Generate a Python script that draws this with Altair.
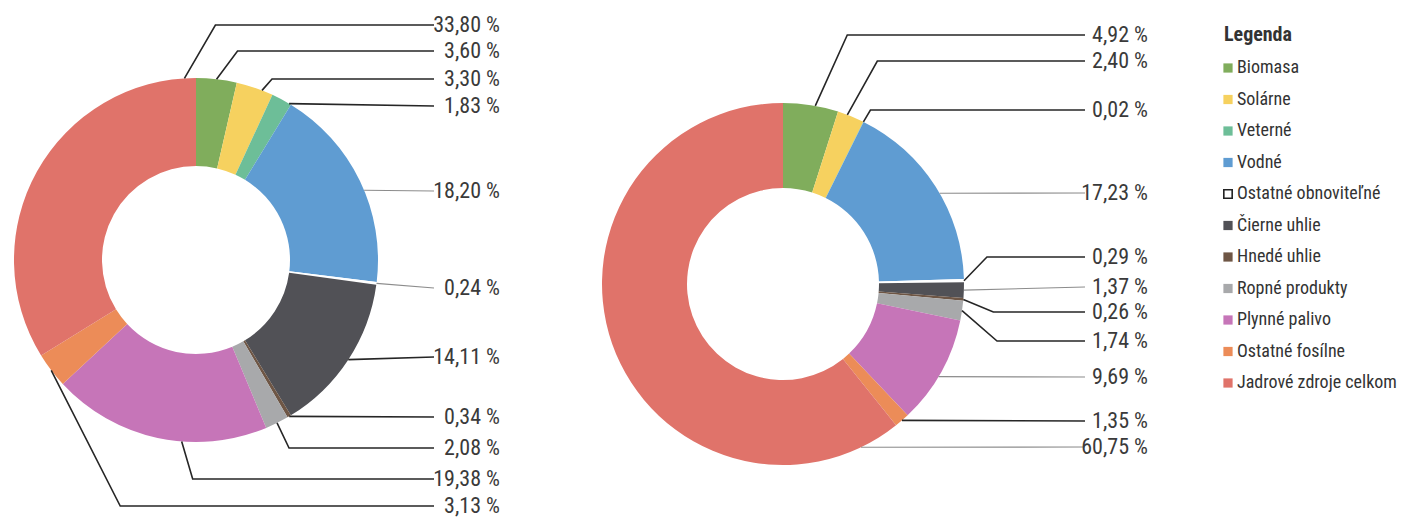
import math
import altair as alt
import pandas as pd

# ---------------- data ----------------
cats = ["Biomasa", "Solárne", "Veterné", "Vodné", "Ostatné obnoviteľné",
        "Čierne uhlie", "Hnedé uhlie", "Ropné produkty", "Plynné palivo",
        "Ostatné fosílne", "Jadrové zdroje celkom"]
colors = ["#80ad5c", "#f6d15f", "#6dbe98", "#5f9cd2", "#ffffff", "#515156",
          "#6e5645", "#a8a9ab", "#c675b8", "#ec8c58", "#e0736a"]
left_values = [3.60, 3.30, 1.83, 18.20, 0.24, 14.11, 0.34, 2.08, 19.38, 3.13, 33.80]
right_values = [4.92, 2.40, 0.02, 17.23, 0.29, 1.37, 0.26, 1.74, 9.69, 1.35, 60.75]

# ---------------- layout (page pixel coordinates) ----------------
W, H, M = 1395, 509, 8
LEFT = dict(cx=196, cy=260, R=182, r=94, end=434, text=500)
RIGHT = dict(cx=783, cy=284, R=181, r=96, end=1085, text=1148)
left_rows = [51, 79, 106, 191, 288, 357, 417, 448, 479, 506, 25]
right_rows = [35, 61, 110, 193, 257, 287, 312, 341, 377, 421, 447]
left_frac = [0.5, 0.7, 0.9, 0.55, 0.5, 0.5, 0.5, 0.5, 0.39, 0.5, 0.97]
right_frac = [0.58, 0.36, 0.5, 0.54, 0.5, 0.5, 0.5, 0.5, 0.55, 0.5, 0.06]
left_elbow = [21, 10, 0, 0, 0, 0, 0, 12, 11, 69, 31]
right_elbow = [32, 30, 7, 0, 23, 0, 30, 35, 0, 0, 0]
left_light = {3, 4}
right_light = {3, 5, 8, 10}
FONT = "'Roboto Condensed', 'DejaVu Sans Condensed', sans-serif"
TEXT_COLOR = "#3a3a3a"
LEG_X, LEG_Y0, LEG_DY = 1228, 68, 31.5

xs = alt.Scale(domain=[M, M + W], nice=False, zero=False)
ys = alt.Scale(domain=[M, M + H], nice=False, zero=False, reverse=True)


def fmt(v):
    return f"{v:.2f}".replace(".", ",") + " %"


def arc_layer(values, geo):
    df = pd.DataFrame({"cat": cats, "idx": range(len(cats)), "value": values})
    return alt.Chart(df).mark_arc(
        outerRadius=geo["R"], innerRadius=geo["r"]
    ).encode(
        theta=alt.Theta("value:Q", stack="normalize"),
        order=alt.Order("idx:Q"),
        color=alt.Color("cat:N", scale=alt.Scale(domain=cats, range=colors), legend=None),
        x=alt.value(geo["cx"] - M),
        y=alt.value(geo["cy"] - M),
    )


def leaders(values, geo, rows, fracs, elbows, light, side):
    total = sum(values)
    pts, labels = [], []
    cum = 0.0
    for i, v in enumerate(values):
        a = 2 * math.pi * (cum + fracs[i] * v) / total
        sx = geo["cx"] + geo["R"] * math.sin(a)
        sy = geo["cy"] - geo["R"] * math.cos(a)
        path = [(sx, sy)]
        if elbows[i]:
            path.append((sx + elbows[i], rows[i]))
        path.append((geo["end"], rows[i]))
        shade = "light" if i in light else "dark"
        for k, (px, py) in enumerate(path):
            pts.append({"lid": f"{side}{i}", "pt": k, "px": px, "py": py, "shade": shade})
        labels.append({"tx": geo["text"], "ty": rows[i], "label": fmt(v)})
        cum += v
    return pts, labels


lp, ll = leaders(left_values, LEFT, left_rows, left_frac, left_elbow, left_light, "L")
rp, rl = leaders(right_values, RIGHT, right_rows, right_frac, right_elbow, right_light, "R")
lines_df = pd.DataFrame(lp + rp)
labels_df = pd.DataFrame(ll + rl)


def line_layer(shade, color, width):
    return alt.Chart(lines_df[lines_df.shade == shade]).mark_line(
        color=color, strokeWidth=width
    ).encode(
        x=alt.X("px:Q", scale=xs, axis=None),
        y=alt.Y("py:Q", scale=ys, axis=None),
        detail="lid:N",
        order="pt:Q",
    )


label_layer = alt.Chart(labels_df).mark_text(
    align="right", baseline="middle", font=FONT, fontSize=22, color=TEXT_COLOR
).encode(
    x=alt.X("tx:Q", scale=xs, axis=None),
    y=alt.Y("ty:Q", scale=ys, axis=None),
    text="label:N",
)

# ---------------- legend ----------------
leg_df = pd.DataFrame({
    "cat": cats,
    "lx": [LEG_X] * len(cats),
    "tx": [LEG_X + 9] * len(cats),
    "ly": [LEG_Y0 + LEG_DY * i for i in range(len(cats))],
})
leg_sq = alt.Chart(leg_df).mark_square(size=85, opacity=1).encode(
    x=alt.X("lx:Q", scale=xs, axis=None),
    y=alt.Y("ly:Q", scale=ys, axis=None),
    color=alt.Color("cat:N", scale=alt.Scale(domain=cats, range=colors), legend=None),
)
leg_outline = alt.Chart(leg_df[leg_df.cat == "Ostatné obnoviteľné"]).mark_square(
    size=70, filled=False, color="#222222", strokeWidth=1.6, opacity=1
).encode(
    x=alt.X("lx:Q", scale=xs, axis=None),
    y=alt.Y("ly:Q", scale=ys, axis=None),
)
leg_text = alt.Chart(leg_df).mark_text(
    align="left", baseline="middle", font=FONT, fontSize=18, color="#333333"
).encode(
    x=alt.X("tx:Q", scale=xs, axis=None),
    y=alt.Y("ly:Q", scale=ys, axis=None),
    text="cat:N",
)
leg_title = alt.Chart(pd.DataFrame({"t": ["Legenda"], "x": [LEG_X - 4], "y": [35]})).mark_text(
    align="left", baseline="middle", font=FONT, fontSize=20, fontWeight="bold", color="#333333"
).encode(
    x=alt.X("x:Q", scale=xs, axis=None),
    y=alt.Y("y:Q", scale=ys, axis=None),
    text="t:N",
)

chart = alt.layer(
    arc_layer(left_values, LEFT),
    arc_layer(right_values, RIGHT),
    line_layer("light", "#8c8c8c", 1.1),
    line_layer("dark", "#262626", 1.6),
    label_layer,
    leg_sq, leg_outline, leg_text, leg_title,
).properties(
    width=W, height=H, padding=0, autosize=alt.AutoSizeParams(type="none"),
    background="white",
).configure_view(stroke=None)

chart.save("out.html", embed_options={"renderer": "svg", "actions": False})
